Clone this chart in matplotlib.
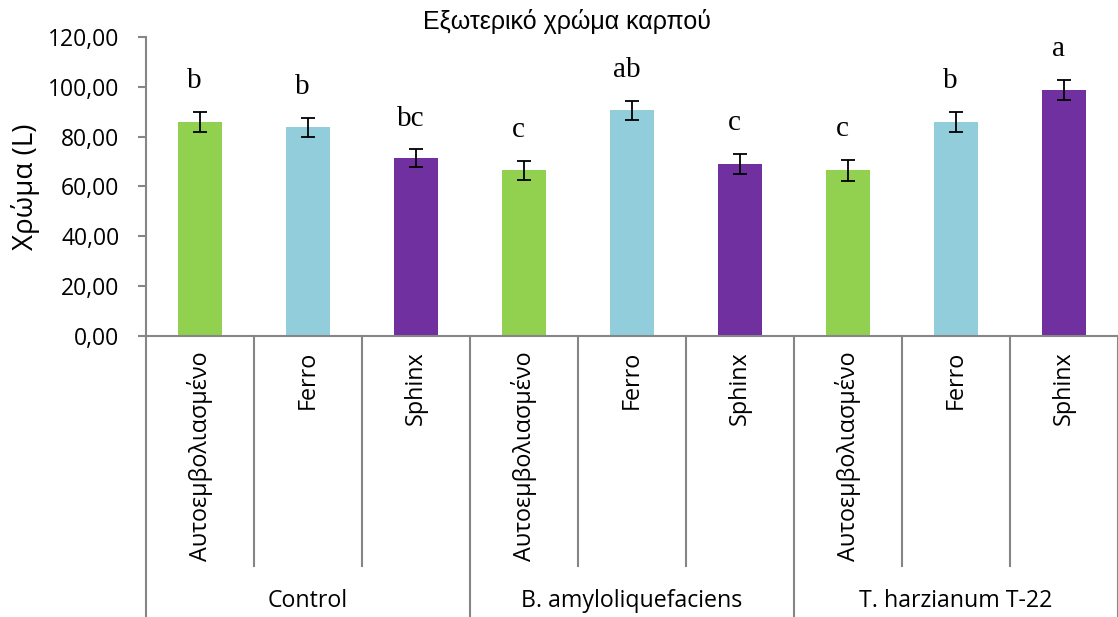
import matplotlib
matplotlib.use("Agg")
import matplotlib.pyplot as plt
import matplotlib.transforms as mtransforms

groups = ["Control", "B. amyloliquefaciens", "T. harzianum T-22"]
varieties = ["Αυτοεμβολιασμένο", "Ferro", "Sphinx"]
means = [85.8, 83.8, 71.3, 66.5, 90.6, 68.9, 66.5, 85.8, 98.7]
errors = [4.1, 3.8, 3.6, 3.8, 3.9, 4.1, 4.2, 4.1, 4.1]
letters = ["b", "b", "bc", "c", "ab", "c", "c", "b", "a"]
yticks = [0, 20, 40, 60, 80, 100, 120]
ytick_labels = ["0,00", "20,00", "40,00", "60,00", "80,00", "100,00", "120,00"]
colors = ["#92D050", "#92CDDC", "#7030A0"]

SANS = ["Open Sans", "DejaVu Sans"]
AXC = "#868686"

W, H = 1118, 617
fig = plt.figure(figsize=(W / 100, H / 100), dpi=100)
left, right, top, bottom = 146, 1118, 37.3, 335.5
ax = fig.add_axes([left / W, 1 - bottom / H, (right - left) / W, (bottom - top) / H])

n = len(means)
xs = list(range(n))
bar_colors = [colors[i % 3] for i in range(n)]
ax.bar(xs, means, width=0.41, color=bar_colors, zorder=2)
ax.errorbar(xs, means, yerr=errors, fmt="none", ecolor="black",
            elinewidth=1.3, capsize=5, capthick=1.3, zorder=3)
for x, m, e, t in zip(xs, means, errors, letters):
    ax.text(x - 0.05, m + e + 9.5, t, ha="center", va="baseline",
            fontsize=21, family=["Liberation Serif", "DejaVu Serif"])

ax.set_xlim(-0.5, n - 0.5)
ax.set_ylim(0, 120)
ax.set_yticks(yticks)
ax.set_yticklabels(ytick_labels, fontsize=16.5, family=SANS)
ax.set_xticks([])
for s in ["top", "right", "bottom"]:
    ax.spines[s].set_visible(False)
ax.spines["left"].set_color(AXC)
ax.spines["left"].set_linewidth(1.5)
ax.tick_params(axis="y", direction="out", length=6, width=1.5, color=AXC, pad=13)

# bottom axis line
ax.axhline(0, color=AXC, lw=1.5, zorder=4, clip_on=False)

trans = mtransforms.blended_transform_factory(ax.transData, fig.transFigure)
def fy(py):
    return 1 - py / H

# dividers
for i in range(n + 1):
    xb = i - 0.5
    if i % 3 == 0:
        y1 = fy(H + 2)
    else:
        y1 = fy(566)
    ax.plot([xb, xb], [fy(bottom), y1], transform=trans, color=AXC,
            lw=1.5, clip_on=False)

# category labels
for i in range(n):
    ax.text(i, fy(351), varieties[i % 3], transform=trans, rotation=90,
            ha="center", va="top", fontsize=16.8, family=SANS)

# group labels
for g, name in enumerate(groups):
    ax.text(3 * g + 1, fy(601), name, transform=trans, ha="center",
            va="center", fontsize=16.7, family=SANS)

fig.text(567 / W, fy(22), "Εξωτερικό χρώμα καρπού", ha="center", va="center",
         fontsize=18, family=["Liberation Sans", "DejaVu Sans"])
fig.text(25 / W, fy(187), "Χρώμα (L)", ha="center", va="center",
         rotation=90, fontsize=20, family=SANS)

fig.savefig("out.png", dpi=100, facecolor="white")
